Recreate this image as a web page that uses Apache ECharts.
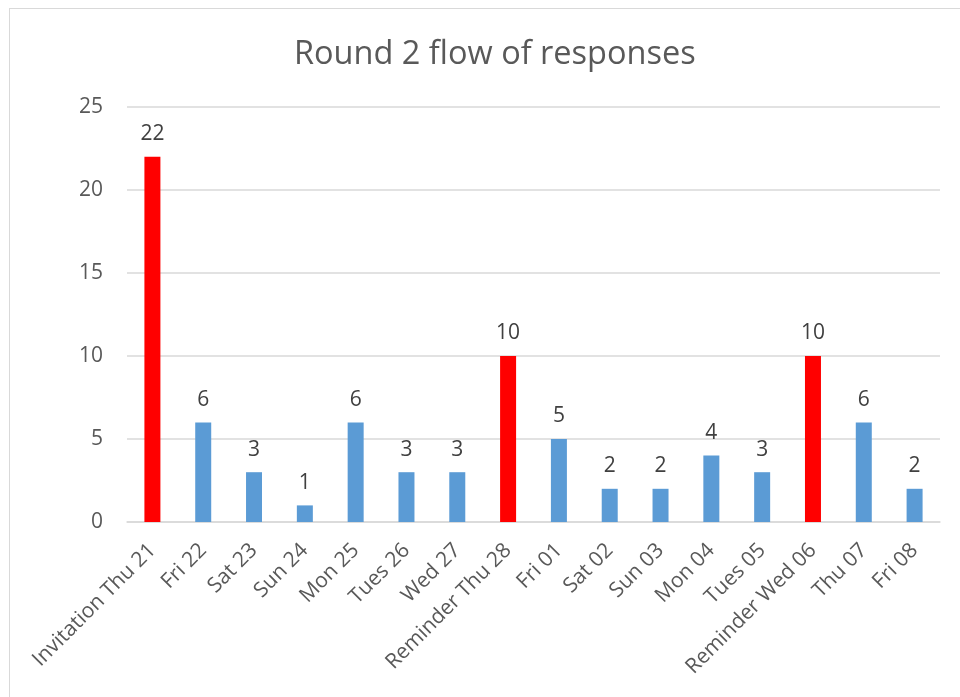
<!DOCTYPE html>
<html>
<head>
<meta charset="utf-8">
<script src="https://cdn.jsdelivr.net/npm/echarts@6/dist/echarts.min.js"></script>
<style>
  html, body { margin: 0; padding: 0; background: #fff; }
  #frame { position: absolute; left: 9px; top: 8px; width: 960px; height: 700px; border: 1px solid #d9d9d9; box-sizing: border-box; }
  #chart { position: absolute; left: 0; top: 0; width: 960px; height: 697px; }
</style>
</head>
<body>
<div id="frame"></div>
<div id="chart"></div>
<script>
// Daily response counts for round 2
const categories = [
  'Invitation Thu 21', 'Fri 22', 'Sat 23', 'Sun 24', 'Mon 25', 'Tues 26', 'Wed 27',
  'Reminder Thu 28', 'Fri 01', 'Sat 02', 'Sun 03', 'Mon 04', 'Tues 05',
  'Reminder Wed 06', 'Thu 07', 'Fri 08'
];
const responses = [22, 6, 3, 1, 6, 3, 3, 10, 5, 2, 2, 4, 3, 10, 6, 2];
// Days on which an invitation or reminder went out
const mailingDays = ['Invitation Thu 21', 'Reminder Thu 28', 'Reminder Wed 06'];
const yTicks = [0, 5, 10, 15, 20, 25];

const FONT = '"Open Sans", "Noto Sans", sans-serif';
const chart = echarts.init(document.getElementById('chart'), null, { renderer: 'canvas' });

chart.setOption({
  animation: false,
  backgroundColor: 'transparent',
  title: {
    text: 'Round 2 flow of responses',
    left: 289,
    top: 33,
    textStyle: { fontFamily: FONT, fontSize: 32.5, fontWeight: 'normal', color: '#595959' }
  },
  grid: { left: 127, right: 20, top: 107, bottom: 175, containLabel: false },
  xAxis: {
    type: 'category',
    data: categories,
    axisLine: { lineStyle: { color: '#d9d9d9', width: 1.5 } },
    axisTick: { show: false },
    axisLabel: {
      rotate: 45,
      interval: 0,
      margin: 25,
      fontFamily: FONT,
      fontSize: 21,
      color: '#595959'
    }
  },
  yAxis: {
    type: 'value',
    min: yTicks[0],
    max: yTicks[yTicks.length - 1],
    interval: 5,
    axisLine: { show: false },
    axisTick: { show: false },
    splitLine: { lineStyle: { color: '#d9d9d9', width: 1.5 } },
    axisLabel: { margin: 24, fontFamily: FONT, fontSize: 21, color: '#595959' }
  },
  series: [{
    type: 'bar',
    barWidth: 16,
    data: responses.map((v, i) => ({
      value: v,
      itemStyle: { color: mailingDays.includes(categories[i]) ? '#ff0000' : '#5b9bd5' }
    })),
    label: {
      show: true,
      position: 'top',
      distance: 12,
      fontFamily: FONT,
      fontSize: 21,
      color: '#404040'
    }
  }]
});
</script>
</body>
</html>
